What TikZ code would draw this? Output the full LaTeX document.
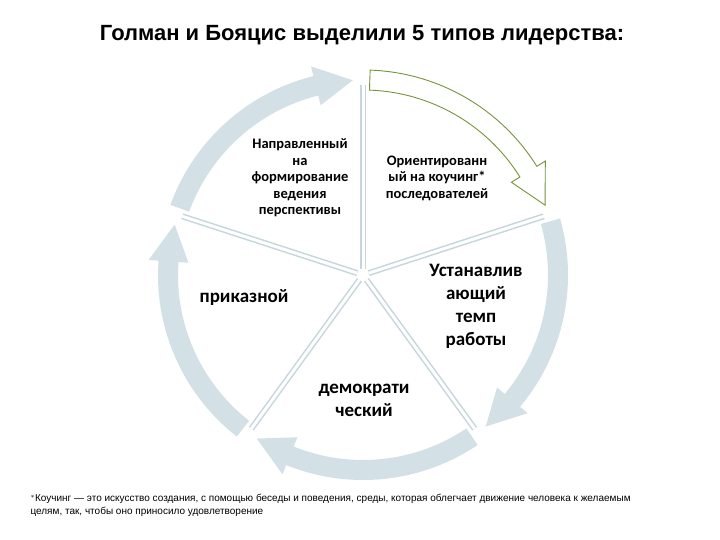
\documentclass[tikz,border=0pt]{standalone}
\usepackage{fontspec}
\usetikzlibrary{calc}
\setmainfont{Carlito}
\newfontfamily\arialf{Liberation Sans}
\begin{document}
\begin{tikzpicture}[x=1pt,y=1pt,
  ring/.style={fill=ringc,draw=none},
  sep/.style={draw=sepc,line width=6pt},
  sepin/.style={draw=white,line width=3pt},
  lbl/.style={align=center,font=\bfseries\fontsize{14.5}{16.5}\selectfont},
  big/.style={align=center,font=\bfseries\fontsize{19}{23}\selectfont}]
\definecolor{ringc}{HTML}{D3E1E6}
\definecolor{sepc}{HTML}{C5D6DC}
\definecolor{greenc}{HTML}{77933C}
\useasboundingbox (0,0) rectangle (720,540);
\coordinate (c) at (363,265);
% arrows
\foreach \t in {90,162,234,306}{
  \pgfmathsetmacro{\s}{\t+70}\pgfmathsetmacro{\b}{\t+14}\pgfmathsetmacro{\e}{\t+3}
  \fill[ring] ($(c)+(\s:185)$) arc[start angle=\s,end angle=\b,radius=185] -- ($(c)+(\b:175)$) -- ($(c)+(\e:195)$) -- ($(c)+(\b:215)$) -- ($(c)+(\b:205)$) arc[start angle=\b,end angle=\s,radius=205] -- cycle;
}
\draw[greenc,fill=white,line width=0.9pt] ($(c)+(88:185)$) arc[start angle=88,end angle=32,radius=185] -- ($(c)+(32:175)$) -- ($(c)+(21:195)$) -- ($(c)+(32:215)$) -- ($(c)+(32:205)$) arc[start angle=32,end angle=88,radius=205] -- cycle;
% separators
\foreach \a [count=\i] in {90,162,234,306,18}{
  \coordinate (r\i) at ($(c)+(\a:190)$);
  \coordinate (q\i) at ($(c)+(\a:6)$);
  \draw[sep] (q\i) -- (r\i);
  \draw[sepin] (q\i) -- (r\i);
}
\node[font=\arialf\bfseries\fontsize{22}{26}\selectfont] (title) at (362,505) {Голман и Бояцис выделили 5 типов лидерства:};
\node[lbl] (n1) at (300,362) {Направленный\\на\\формирование\\ведения\\перспективы};
\node[lbl] (n2) at (437,362) {Ориентированн\\ый на коучинг*\\последователей};
\node[big] (n3) at (476,234) {Устанавлив\\ающий\\темп\\работы};
\node[big] (n4) at (244,242) {приказной};
\node[big] (n5) at (364,140) {демократи\\ческий};
\node[anchor=north west,align=left,font=\arialf\fontsize{10}{13}\selectfont] (fn) at (27,49) {$^{*}$Коучинг — это искусство создания, с помощью беседы и поведения, среды, которая облегчает движение человека к желаемым\\целям, так, чтобы оно приносило удовлетворение};
\end{tikzpicture}
\end{document}
